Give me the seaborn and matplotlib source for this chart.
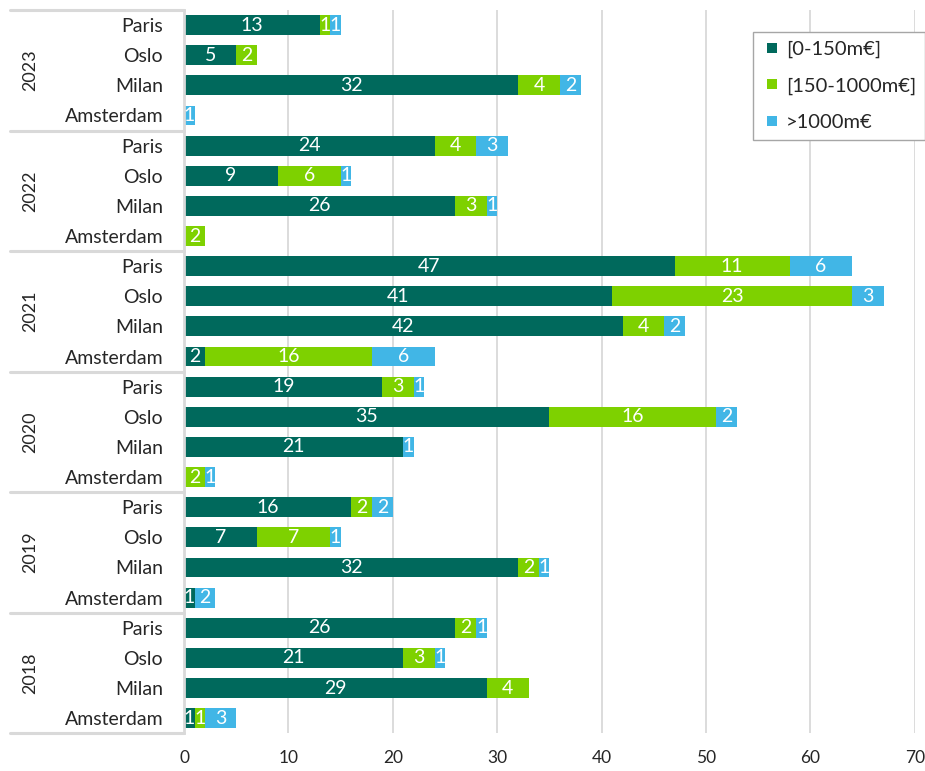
import matplotlib
matplotlib.use("Agg")
import matplotlib.pyplot as plt
import matplotlib.transforms as mtransforms
from matplotlib.lines import Line2D
import seaborn as sns
import pandas as pd

years = ["2023", "2022", "2021", "2020", "2019", "2018"]
cities = ["Paris", "Oslo", "Milan", "Amsterdam"]
series_names = ["[0-150m€]", "[150-1000m€]", ">1000m€"]
small = [13, 5, 32, 0, 24, 9, 26, 0, 47, 41, 42, 2, 19, 35, 21, 0, 16, 7, 32, 1, 26, 21, 29, 1]
mid = [1, 2, 4, 0, 4, 6, 3, 2, 11, 23, 4, 16, 3, 16, 0, 2, 2, 7, 2, 0, 2, 3, 4, 1]
large = [1, 0, 2, 1, 3, 1, 1, 0, 6, 3, 2, 6, 1, 2, 1, 1, 2, 1, 1, 2, 1, 1, 0, 3]
colors = ["#00695C", "#7ED100", "#41B6E6"]

keys = [f"{y}|{c}" for y in years for c in cities]
df = pd.DataFrame({"key": keys, "small": small, "mid": mid, "large": large})
df["c1"] = df["small"]
df["c2"] = df["small"] + df["mid"]
df["c3"] = df["c2"] + df["large"]

sns.set_style("white")
plt.rcParams["font.family"] = ["Lato", "DejaVu Sans"]

fig = plt.figure(figsize=(9.25, 7.71), dpi=100)
ax = fig.add_axes([0.199, 0.049, 0.790, 0.938])

for col, c in zip(["c3", "c2", "c1"], colors[::-1]):
    sns.barplot(data=df, y="key", x=col, orient="h", color=c, saturation=1,
                width=0.66, errorbar=None, ax=ax, zorder=2, linewidth=0,
                edgecolor=c)

# segment labels
for i, row in df.iterrows():
    left = 0
    for v in [row["small"], row["mid"], row["large"]]:
        if v > 0:
            ax.text(left + v / 2, i, str(v), ha="center", va="center",
                    color="white", fontsize=14, zorder=5)
        left += v

ax.set_xlim(0, 70)
ax.set_xticks(range(0, 71, 10))
ax.set_ylim(23.5, -0.5)
ax.set_yticks(range(len(keys)))
ax.set_yticklabels(cities * len(years))
ax.set_xlabel("")
ax.set_ylabel("")
ax.tick_params(axis="y", length=0, pad=15, labelsize=14, labelcolor="#262626")
ax.tick_params(axis="x", length=0, pad=12, labelsize=12.5, labelcolor="#262626")

ax.xaxis.grid(True, color="#D9D9D9", lw=1.3)
ax.set_axisbelow(True)
for s in ["top", "right", "bottom"]:
    ax.spines[s].set_visible(False)
ax.spines["left"].set_color("#D9D9D9")
ax.spines["left"].set_linewidth(2)

trans = mtransforms.blended_transform_factory(ax.transAxes, ax.transData)
for b in [-0.5 + 4 * k for k in range(len(years) + 1)]:
    ax.plot([-0.238, 0], [b, b], transform=trans, color="#D9D9D9", lw=2.2,
            clip_on=False, zorder=1)
for k, y in enumerate(years):
    ax.text(-0.21, 4 * k + 1.5, y, transform=trans, rotation=90, ha="center",
            va="center", fontsize=13, color="#262626")

handles = [Line2D([0], [0], marker="s", color="w", markerfacecolor=c,
                  markeredgewidth=0, markersize=7, linestyle="None") for c in colors]
leg = ax.legend(handles, series_names, loc="upper left", bbox_to_anchor=(0.778, 0.970),
                frameon=True, fancybox=False, edgecolor="#A6A6A6", fontsize=14.5,
                labelspacing=0.95, handlelength=1.0, handletextpad=0.2,
                borderpad=0.45, borderaxespad=0, framealpha=1)
leg.get_frame().set_linewidth(1)
for t in leg.get_texts():
    t.set_color("#262626")

fig.savefig("out.png", dpi=100)
